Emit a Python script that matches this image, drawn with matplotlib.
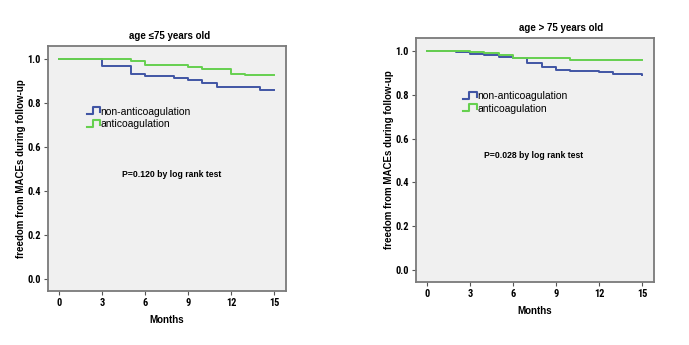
import matplotlib
matplotlib.use("Agg")
import matplotlib.pyplot as plt
from matplotlib.legend_handler import HandlerBase
from matplotlib.lines import Line2D

plt.rcParams['font.family'] = ['Liberation Sans', 'DejaVu Sans']

# Kaplan-Meier steps (months, freedom from MACEs)
young_t_non = [0, 3, 5, 6, 8, 9, 10, 11, 14, 15]
young_s_non = [1.0, 0.967, 0.933, 0.924, 0.914, 0.903, 0.891, 0.871, 0.859, 0.859]
young_t_anti = [0, 5, 6, 9, 10, 12, 13, 15]
young_s_anti = [1.0, 0.989, 0.971, 0.962, 0.955, 0.933, 0.926, 0.926]

old_t_non = [0, 2, 3, 4, 5, 6, 7, 8, 9, 10, 12, 13, 15]
old_s_non = [1.0, 0.995, 0.988, 0.982, 0.974, 0.967, 0.944, 0.928, 0.915, 0.910,
             0.903, 0.893, 0.889]
old_t_anti = [0, 3, 4, 5, 6, 10, 15]
old_s_anti = [1.0, 0.997, 0.991, 0.982, 0.968, 0.959, 0.959]

group_names = ['non-anticoagulation', 'anticoagulation']
titles = ['age \u226475 years old', 'age > 75 years old']
p_texts = ['P=0.120 by log rank test', 'P=0.028 by log rank test']
x_ticks = [0, 3, 6, 9, 12, 15]
y_ticks = [0.0, 0.2, 0.4, 0.6, 0.8, 1.0]

BLUE = '#4155a4'
GREEN = '#66d04f'
SPINE = '#7a7a7a'
NARROW = ['Liberation Sans Narrow', 'Roboto Condensed', 'DejaVu Sans Condensed',
          'Liberation Sans']


class StepHandler(HandlerBase):
    """small step glyph like the SPSS legend"""
    def create_artists(self, legend, orig_handle, xd, yd, width, height, fontsize, trans):
        xs = [xd, xd + 0.45 * width, xd + 0.45 * width, xd + width, xd + width]
        ys = [yd + 0.05 * height, yd + 0.05 * height, yd + 1.0 * height,
              yd + 1.0 * height, yd + 0.3 * height]
        ln = Line2D(xs, ys, color=orig_handle.get_color(), lw=1.5, transform=trans)
        return [ln]


def km_panel(ax, t_non, s_non, t_anti, s_anti, title, ptext, pxy, legxy, title_x):
    ax.set_facecolor('#f0f0f0')
    h1, = ax.step(t_non, s_non, where='post', color=BLUE, lw=1.4)
    h2, = ax.step(t_anti, s_anti, where='post', color=GREEN, lw=1.4)
    ax.set_xlim(-0.78, 15.84)
    ax.set_ylim(-0.055, 1.059)
    ax.set_xticks(x_ticks)
    ax.set_yticks(y_ticks)
    ax.set_yticklabels([f'{v:.1f}' for v in y_ticks])
    ax.tick_params(length=3, width=0.8, color='#555555', labelsize=7.5, pad=2)
    for lab in ax.get_xticklabels() + ax.get_yticklabels():
        lab.set_fontweight('bold')
        lab.set_family(NARROW)
    for sp in ax.spines.values():
        sp.set_color(SPINE)
        sp.set_linewidth(1.3)
    ax.set_title(title, fontsize=7, fontweight='bold', pad=5, x=title_x)
    ax.set_xlabel('Months', fontsize=7, fontweight='bold', labelpad=5)
    ax.set_ylabel('freedom from MACEs during follow-up', fontsize=7,
                  fontweight='bold', labelpad=1)
    ax.legend([h1, h2], group_names, handler_map={Line2D: StepHandler()},
              loc='upper left', bbox_to_anchor=legxy, frameon=False,
              fontsize=7.5, handlelength=1.3, handletextpad=0.05,
              labelspacing=0.25, borderaxespad=0)
    ax.text(pxy[0], pxy[1], ptext, transform=ax.transAxes, ha='center',
            va='center', fontsize=6.2, fontweight='bold')


fig = plt.figure(figsize=(6.89, 3.45), dpi=100)
ax1 = fig.add_axes([0.0697, 0.1565, 0.3454, 0.710])
ax2 = fig.add_axes([0.6038, 0.1826, 0.3454, 0.707])

km_panel(ax1, young_t_non, young_s_non, young_t_anti, young_s_anti,
         titles[0], p_texts[0], (0.52, 0.475), (0.145, 0.77), 0.51)
km_panel(ax2, old_t_non, old_s_non, old_t_anti, old_s_anti,
         titles[1], p_texts[1], (0.495, 0.52), (0.18, 0.80), 0.61)

fig.savefig('out.png', dpi=100)
